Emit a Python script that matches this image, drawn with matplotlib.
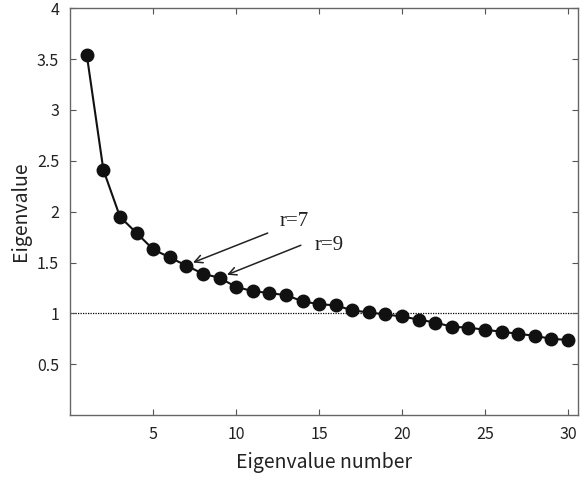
import matplotlib
matplotlib.use("Agg")
import matplotlib.pyplot as plt

eigen_number = list(range(1, 31))
eigenvalues = [3.54, 2.41, 1.95, 1.79, 1.63, 1.55, 1.47, 1.39, 1.35, 1.26,
               1.22, 1.20, 1.18, 1.12, 1.09, 1.08, 1.03, 1.01, 0.99, 0.97,
               0.94, 0.91, 0.87, 0.86, 0.84, 0.82, 0.80, 0.78, 0.75, 0.74]
threshold = 1.0
x_ticks = [5, 10, 15, 20, 25, 30]
y_ticks = [0.5, 1, 1.5, 2, 2.5, 3, 3.5, 4]
y_tick_labels = ["0.5", "1", "1.5", "2", "2.5", "3", "3.5", "4"]

# annotation: label, label position, arrow start, arrow tip
notes = [
    ("r=7", (12.6, 1.90), (11.9, 1.79), (7.4, 1.50)),
    ("r=9", (14.7, 1.67), (13.9, 1.67), (9.45, 1.38)),
]

sans = ["Noto Sans CJK JP", "DejaVu Sans"]

fig = plt.figure(figsize=(5.85, 4.8), dpi=100)
ax = fig.add_axes([0.12, 0.135, 0.868, 0.848])

ax.axhline(threshold, color="black", linestyle=(0, (1, 1)), linewidth=0.9, zorder=1)
ax.plot(eigen_number, eigenvalues, color="#111111", linewidth=1.5,
        marker="o", markersize=9, markerfacecolor="#111111",
        markeredgecolor="#111111", zorder=3)

for text, tpos, start, tip in notes:
    ax.annotate("", xy=tip, xytext=start,
                arrowprops=dict(arrowstyle="->", color="#222222", lw=1.1,
                                mutation_scale=14, shrinkA=0, shrinkB=0))
    ax.text(tpos[0], tpos[1], text, fontsize=15, family="Liberation Serif",
            color="#222222", ha="left", va="center")

ax.set_xlim(0, 30.6)
ax.set_ylim(0, 4)
ax.set_xticks(x_ticks)
ax.set_yticks(y_ticks)
ax.set_yticklabels(y_tick_labels)
ax.tick_params(direction="in", top=True, right=True, length=4, width=0.8,
               color="#555555", labelsize=11.5, pad=8)
for lab in ax.get_xticklabels() + ax.get_yticklabels():
    lab.set_family(sans)
    lab.set_color("#222222")
for sp in ax.spines.values():
    sp.set_color("#666666")
    sp.set_linewidth(1.0)

ax.set_xlabel("Eigenvalue number", fontsize=14, family=sans, color="#222222", labelpad=6)
ax.set_ylabel("Eigenvalue", fontsize=14, family=sans, color="#222222", labelpad=4)

fig.savefig("out.png", dpi=100)
